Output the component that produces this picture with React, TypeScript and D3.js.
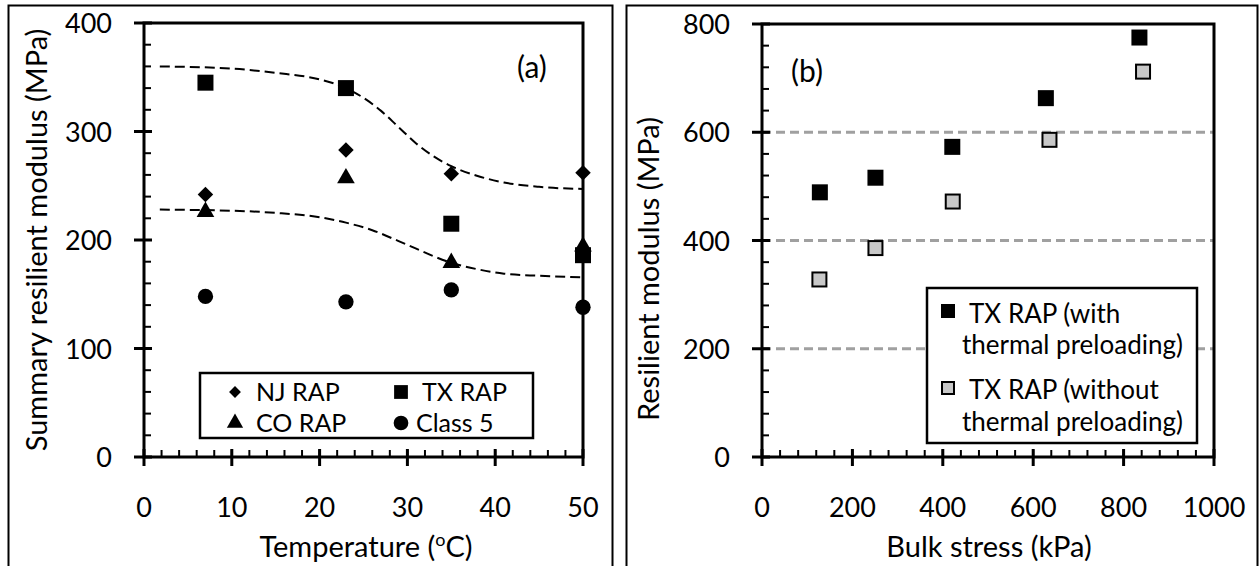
import React, { useEffect, useRef } from 'react'
import * as d3 from 'd3'

// panel (a): summary resilient modulus vs temperature
const temps = [7, 23, 35, 50]
const njRap = [242, 283, 261, 262]
const txRap = [345, 340, 215, 186]
const coRap = [226, 257, 179, 194]
const class5 = [148, 143, 154, 138]

// dashed fit curves
const upperFitT = [1.8, 10, 15, 20, 23, 25, 27, 29, 31, 33, 35, 38, 41, 45, 50]
const upperFitM = [360, 358, 354, 348, 340, 331, 319, 304, 289, 277, 268, 259, 253, 249, 247]
const lowerFitT = [1.8, 10, 15, 20, 23, 26, 29, 31, 33, 35, 38, 41, 45, 50]
const lowerFitM = [228, 227, 225, 221, 216, 209, 199, 192, 185, 179, 173, 169, 167, 165.5]

const tempTicks = [0, 10, 20, 30, 40, 50]
const mrTicksA = [0, 100, 200, 300, 400]

// panel (b): resilient modulus vs bulk stress
const bulkWith = [128, 251, 421, 628, 835]
const mrWith = [489, 516, 573, 663, 775]
const bulkWithout = [127, 251, 422, 636, 843]
const mrWithout = [328, 386, 472, 586, 712]

const bulkTicks = [0, 200, 400, 600, 800, 1000]
const mrTicksB = [0, 200, 400, 600, 800]
const gridB = [200, 400, 600]

const FONT = 'Lato, "Open Sans", sans-serif'

export default function App() {
  const ref = useRef<SVGSVGElement>(null)

  useEffect(() => {
    const svg = d3.select(ref.current)
    svg.selectAll('*').remove()

    // panel borders
    svg.append('rect').attr('x', 8.5).attr('y', 5.5).attr('width', 604).attr('height', 600)
      .attr('fill', 'none').attr('stroke', '#000').attr('stroke-width', 2)
    svg.append('rect').attr('x', 626.5).attr('y', 5.5).attr('width', 631).attr('height', 600)
      .attr('fill', 'none').attr('stroke', '#000').attr('stroke-width', 2)

    const drawAxes = (g: any, x: any, y: any, xTicks: number[], yTicks: number[], xMinor: number, yMinor: number) => {
      const [x0, x1] = x.range()
      const [y0, y1] = y.range()
      const xd = x.domain()
      const yd = y.domain()
      // minor ticks, inside
      for (let v = xd[0]; v <= xd[1] + 1e-9; v += xMinor) {
        g.append('line').attr('x1', x(v)).attr('x2', x(v)).attr('y1', y0).attr('y2', y0 - 7)
          .attr('stroke', '#000').attr('stroke-width', 2)
      }
      for (let v = yd[0]; v <= yd[1] + 1e-9; v += yMinor) {
        g.append('line').attr('x1', x0).attr('x2', x0 + 7).attr('y1', y(v)).attr('y2', y(v))
          .attr('stroke', '#000').attr('stroke-width', 2)
      }
      // major ticks crossing the axis
      xTicks.forEach(v => {
        g.append('line').attr('x1', x(v)).attr('x2', x(v)).attr('y1', y0 - 8).attr('y2', y0 + 9)
          .attr('stroke', '#000').attr('stroke-width', 3)
        g.append('text').attr('x', x(v)).attr('y', y0 + 60).attr('text-anchor', 'middle')
          .attr('font-family', FONT).attr('font-size', 27).text(v)
      })
      yTicks.forEach(v => {
        g.append('line').attr('x1', x0 - 10).attr('x2', x0 + 8).attr('y1', y(v)).attr('y2', y(v))
          .attr('stroke', '#000').attr('stroke-width', 3)
        g.append('text').attr('x', x0 - 32).attr('y', y(v) + 10).attr('text-anchor', 'end')
          .attr('font-family', FONT).attr('font-size', 27).text(v)
      })
      // frame
      g.append('path')
        .attr('d', `M${x0},${y0}L${x1},${y0}L${x1},${y1}L${x0},${y1}Z`)
        .attr('fill', 'none').attr('stroke', '#000').attr('stroke-width', 3)
    }

    // ---------- panel (a)
    const xa = d3.scaleLinear().domain([0, 50]).range([144, 583])
    const ya = d3.scaleLinear().domain([0, 400]).range([457, 23])
    const ga = svg.append('g')

    const fitLine = d3.line<[number, number]>().x(d => xa(d[0])).y(d => ya(d[1])).curve(d3.curveMonotoneX)
    ga.append('path').attr('d', fitLine(d3.zip(upperFitT, upperFitM) as any))
      .attr('fill', 'none').attr('stroke', '#000').attr('stroke-width', 2).attr('stroke-dasharray', '10 5')
    ga.append('path').attr('d', fitLine(d3.zip(lowerFitT, lowerFitM) as any))
      .attr('fill', 'none').attr('stroke', '#000').attr('stroke-width', 2).attr('stroke-dasharray', '10 5')

    const diamond = d3.symbol().type(d3.symbolSquare).size(120)
    const square = d3.symbol().type(d3.symbolSquare).size(256)
    const tri = d3.symbol().type(d3.symbolTriangle).size(135)
    const circ = d3.symbol().type(d3.symbolCircle).size(185)

    const plotSym = (g: any, xs: number[], ys: number[], sym: any, x: any, y: any, rot = 0) => {
      g.selectAll(null).data(d3.zip(xs, ys)).enter().append('path')
        .attr('d', sym())
        .attr('transform', (d: number[]) => `translate(${x(d[0])},${y(d[1])}) rotate(${rot})`)
        .attr('fill', '#000')
    }
    plotSym(ga, temps, class5, circ, xa, ya)
    plotSym(ga, temps, coRap, tri, xa, ya)
    plotSym(ga, temps, njRap, diamond, xa, ya, 45)
    plotSym(ga, temps, txRap, square, xa, ya)

    drawAxes(ga, xa, ya, tempTicks, mrTicksA, 2, 20)

    ga.append('text').attr('x', 517).attr('y', 78).attr('font-family', FONT).attr('font-size', 30).text('(a)')

    // legend (a)
    ga.append('rect').attr('x', 200).attr('y', 373).attr('width', 333).attr('height', 65)
      .attr('fill', '#fff').attr('stroke', '#000').attr('stroke-width', 2.5)
    const legA = [
      { label: 'NJ RAP', sym: d3.symbol().type(d3.symbolSquare).size(70), rot: 45, x: 235, y: 392, tx: 256 },
      { label: 'TX RAP', sym: d3.symbol().type(d3.symbolSquare).size(190), rot: 0, x: 401, y: 392, tx: 422 },
      { label: 'CO RAP', sym: d3.symbol().type(d3.symbolTriangle).size(115), rot: 0, x: 235, y: 423, tx: 256 },
      { label: 'Class 5', sym: d3.symbol().type(d3.symbolCircle).size(170), rot: 0, x: 401, y: 423, tx: 416 },
    ]
    legA.forEach(l => {
      ga.append('path').attr('d', l.sym()).attr('transform', `translate(${l.x},${l.y}) rotate(${l.rot})`).attr('fill', '#000')
      ga.append('text').attr('x', l.tx).attr('y', l.y + 9).attr('font-family', FONT).attr('font-size', 25).text(l.label)
    })

    const tA = ga.append('text').attr('x', 366).attr('y', 557).attr('text-anchor', 'middle')
      .attr('font-family', FONT).attr('font-size', 29)
    tA.append('tspan').text('Temperature (')
    tA.append('tspan').attr('font-size', 18).attr('dy', -11).text('o')
    tA.append('tspan').attr('dy', 11).text('C)')

    ga.append('text').attr('transform', 'translate(47,240) rotate(-90)').attr('text-anchor', 'middle')
      .attr('font-family', FONT).attr('font-size', 29).text('Summary resilient modulus (MPa)')

    // ---------- panel (b)
    const xb = d3.scaleLinear().domain([0, 1000]).range([762, 1214])
    const yb = d3.scaleLinear().domain([0, 800]).range([457, 24])
    const gb = svg.append('g')

    gb.selectAll(null).data(gridB).enter().append('line')
      .attr('x1', 762).attr('x2', 1214).attr('y1', d => yb(d)).attr('y2', d => yb(d))
      .attr('stroke', '#a0a0a0').attr('stroke-width', 3).attr('stroke-dasharray', '9 5')

    gb.selectAll(null).data(d3.zip(bulkWith, mrWith)).enter().append('rect')
      .attr('x', d => xb(d[0]) - 8).attr('y', d => yb(d[1]) - 8).attr('width', 16).attr('height', 16)
      .attr('fill', '#000')
    gb.selectAll(null).data(d3.zip(bulkWithout, mrWithout)).enter().append('rect')
      .attr('x', d => xb(d[0]) - 7).attr('y', d => yb(d[1]) - 7).attr('width', 14).attr('height', 14)
      .attr('fill', '#c8c8c8').attr('stroke', '#000').attr('stroke-width', 2)

    drawAxes(gb, xb, yb, bulkTicks, mrTicksB, 40, 40)

    gb.append('text').attr('x', 791).attr('y', 82).attr('font-family', FONT).attr('font-size', 30).text('(b)')

    // legend (b)
    gb.append('rect').attr('x', 927).attr('y', 288).attr('width', 270).attr('height', 155)
      .attr('fill', '#fff').attr('stroke', '#000').attr('stroke-width', 2.5)
    gb.append('rect').attr('x', 941).attr('y', 304).attr('width', 14).attr('height', 14).attr('fill', '#000')
    gb.append('rect').attr('x', 942).attr('y', 382).attr('width', 12).attr('height', 12)
      .attr('fill', '#c8c8c8').attr('stroke', '#000').attr('stroke-width', 2)
    const legB = [
      { t: 'TX RAP (with', x: 969, y: 323 },
      { t: 'thermal preloading)', x: 962, y: 354 },
      { t: 'TX RAP (without', x: 969, y: 399 },
      { t: 'thermal preloading)', x: 962, y: 431 },
    ]
    legB.forEach(l => {
      gb.append('text').attr('x', l.x).attr('y', l.y).attr('font-family', FONT).attr('font-size', 26).text(l.t)
    })

    gb.append('text').attr('x', 989).attr('y', 557).attr('text-anchor', 'middle')
      .attr('font-family', FONT).attr('font-size', 29).text('Bulk stress (kPa)')
    gb.append('text').attr('transform', 'translate(659,269) rotate(-90)').attr('text-anchor', 'middle')
      .attr('font-family', FONT).attr('font-size', 29).text('Resilient modulus (MPa)')
  }, [])

  return (
    <svg ref={ref} width={1259} height={566}
      style={{ position: 'absolute', left: 0, top: 0, background: '#fff' }} />
  )
}
